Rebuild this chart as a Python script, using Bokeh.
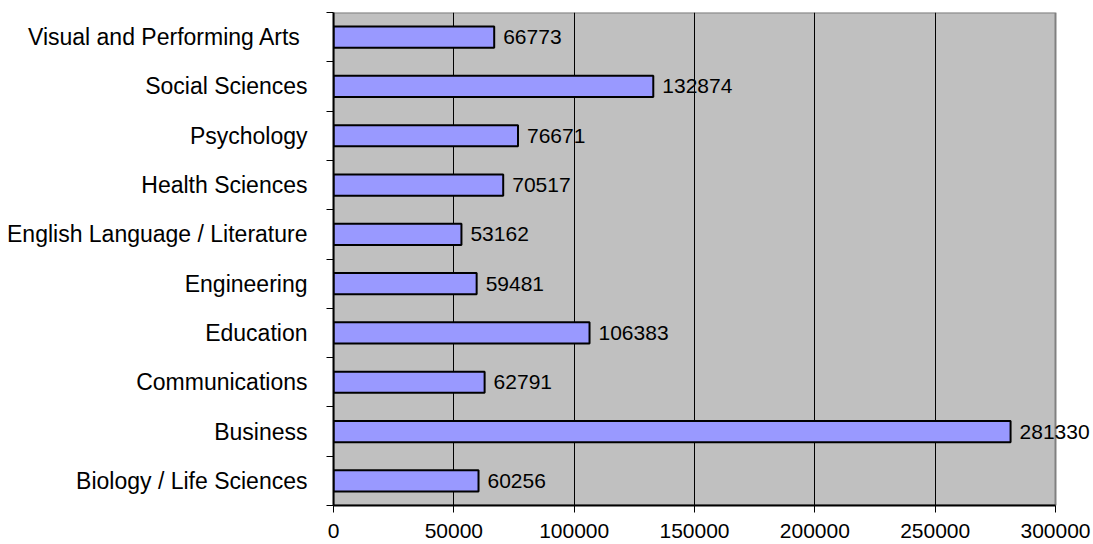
from bokeh.plotting import figure
from bokeh.models import ColumnDataSource, FixedTicker, PrintfTickFormatter, Range1d, LabelSet
from bokeh.core.properties import value
from bokeh.embed import file_html
from bokeh.resources import INLINE

categories = [
    "Biology / Life Sciences",
    "Business",
    "Communications",
    "Education",
    "Engineering",
    "English Language / Literature",
    "Health Sciences",
    "Psychology",
    "Social Sciences",
    "Visual and Performing Arts ",
]
values = [60256, 281330, 62791, 106383, 59481, 53162, 70517, 76671, 132874, 66773]
x_ticks = [0, 50000, 100000, 150000, 200000, 250000, 300000]

positions = list(range(1, len(categories) + 1))
source = ColumnDataSource(data=dict(
    y=positions,
    v=values,
    lbl=[str(v) for v in values],
))

FONT = "Liberation Sans"
x_max = x_ticks[-1]
# frame is extended into the right margin so value labels are not clipped
x_extra = x_max * 38 / 722
y_lo, y_hi = 0.5, len(categories) + 0.5

p = figure(
    width=1093, height=544,
    x_range=Range1d(0, x_max + x_extra),
    y_range=Range1d(y_lo, y_hi),
    output_backend="svg", toolbar_location=None,
    min_border_left=333, min_border_right=0,
    min_border_top=12, min_border_bottom=39,
)
p.background_fill_color = "white"
p.border_fill_color = "white"
p.outline_line_color = None

# plot area background + grey border
bg = p.quad(left=[0], right=[x_max], bottom=[y_lo], top=[y_hi],
            fill_color="#C0C0C0", line_color="#808080", line_width=2)
bg.level = "image"

p.hbar(y="y", right="v", left=0, height=0.43, source=source,
       fill_color="#9999FF", line_color="black", line_width=2)
labels = LabelSet(x="v", y="y", text="lbl", source=source, x_offset=9,
                  text_baseline="middle", text_align="left",
                  text_font=value(FONT), text_font_size=value("21px"),
                  text_color="black")
p.add_layout(labels)

# x axis
p.xaxis.ticker = FixedTicker(ticks=x_ticks)
p.xaxis.bounds = (0, x_max)
p.xaxis.formatter = PrintfTickFormatter(format="%d")
p.xaxis.major_tick_out = 7
p.xaxis.major_tick_in = 0
p.xaxis.minor_tick_out = 0
p.xaxis.minor_tick_in = 0
p.xaxis.major_label_standoff = 11
p.xaxis.major_label_text_font = FONT
p.xaxis.major_label_text_font_size = "21px"
p.xaxis.major_label_text_color = "black"
p.xaxis.axis_line_color = "black"
p.xaxis.axis_line_width = 2
p.xaxis.major_tick_line_color = "black"

# y axis
p.yaxis.ticker = FixedTicker(ticks=positions,
                             minor_ticks=[i + 0.5 for i in range(0, len(categories) + 1)])
p.yaxis.major_label_overrides = {pos: c for pos, c in zip(positions, categories)}
p.yaxis.major_tick_out = 0
p.yaxis.major_tick_in = 0
p.yaxis.minor_tick_out = 7
p.yaxis.minor_tick_in = 0
p.yaxis.minor_tick_line_color = "black"
p.yaxis.major_label_standoff = 19
p.yaxis.major_label_text_font = FONT
p.yaxis.major_label_text_font_size = "23px"
p.yaxis.major_label_text_color = "black"
p.yaxis.axis_line_color = "black"
p.yaxis.axis_line_width = 2

p.xgrid.ticker = FixedTicker(ticks=x_ticks[1:-1])
p.xgrid.grid_line_color = "black"
p.xgrid.grid_line_width = 1
p.ygrid.grid_line_color = None

open("out.html", "w").write(file_html(p, INLINE))
